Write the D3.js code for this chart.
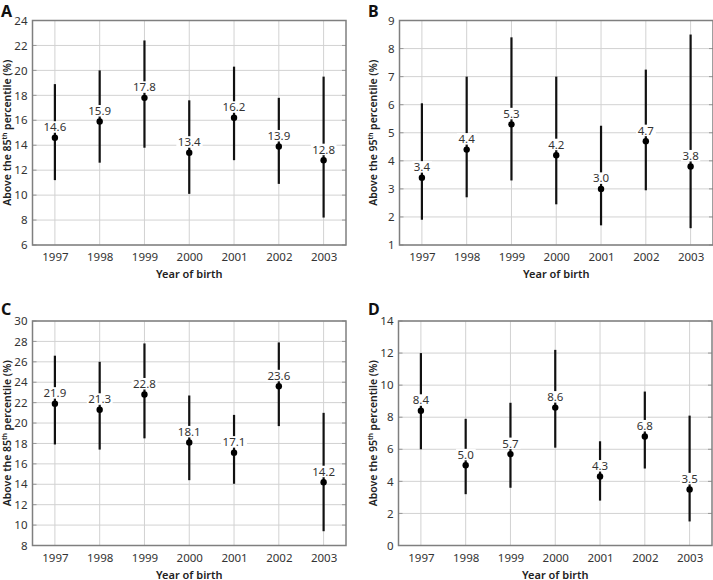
<!DOCTYPE html>
<html>
<head>
<meta charset="utf-8">
<script src="https://cdn.jsdelivr.net/npm/d3@7"></script>
<style>
  html, body { margin: 0; padding: 0; background: #fff; }
  svg { display: block; font-family: "Noto Sans", "Open Sans", sans-serif; }
</style>
</head>
<body>
<svg id="chart" width="713" height="580"></svg>
<script>
const years = ["1997", "1998", "1999", "2000", "2001", "2002", "2003"];

const meanA = [14.6, 15.9, 17.8, 13.4, 16.2, 13.9, 12.8];
const lowA  = [11.2, 12.6, 13.8, 10.1, 12.8, 10.9, 8.2];
const highA = [18.9, 20.0, 22.4, 17.6, 20.3, 17.8, 19.5];

const meanB = [3.4, 4.4, 5.3, 4.2, 3.0, 4.7, 3.8];
const lowB  = [1.9, 2.7, 3.3, 2.45, 1.7, 2.95, 1.6];
const highB = [6.05, 7.0, 8.4, 7.0, 5.25, 7.25, 8.5];

const meanC = [21.9, 21.3, 22.8, 18.1, 17.1, 23.6, 14.2];
const lowC  = [17.9, 17.4, 18.5, 14.4, 14.05, 19.7, 9.4];
const highC = [26.6, 26.0, 27.8, 22.7, 20.8, 27.9, 21.0];

const meanD = [8.4, 5.0, 5.7, 8.6, 4.3, 6.8, 3.5];
const lowD  = [6.0, 3.2, 3.6, 6.1, 2.8, 4.8, 1.5];
const highD = [12.0, 7.9, 8.9, 12.2, 6.5, 9.6, 8.1];

const ticksA = [6, 8, 10, 12, 14, 16, 18, 20, 22, 24];
const ticksB = [1, 2, 3, 4, 5, 6, 7, 8, 9];
const ticksC = [8, 10, 12, 14, 16, 18, 20, 22, 24, 26, 28, 30];
const ticksD = [0, 2, 4, 6, 8, 10, 12, 14];

const xTitle = "Year of birth";

const panels = [
  { letter: "A", pct: "85", mean: meanA, low: lowA, high: highA, ticks: ticksA, left: 32.5, top: 20.5, letterX: 1, letterY: 17, titleX: 11 },
  { letter: "B", pct: "95", mean: meanB, low: lowB, high: highB, ticks: ticksB, left: 399.5, top: 20.5, letterX: 368, letterY: 17, titleX: 376.5 },
  { letter: "C", pct: "85", mean: meanC, low: lowC, high: highC, ticks: ticksC, left: 32.5, top: 321, letterX: 1, letterY: 315, titleX: 11 },
  { letter: "D", pct: "95", mean: meanD, low: lowD, high: highD, ticks: ticksD, left: 398.5, top: 321, letterX: 368, letterY: 315, titleX: 376.5 }
];

const W = 313.5, H = 224.5;
const svg = d3.select("#chart");

panels.forEach(p => {
  const x = d3.scalePoint().domain(years).range([p.left, p.left + W]).padding(0.5);
  const y = d3.scaleLinear().domain([p.ticks[0], p.ticks[p.ticks.length - 1]]).range([p.top + H, p.top]);
  const g = svg.append("g");

  // grid
  g.selectAll(".hg").data(p.ticks).join("line")
    .attr("x1", p.left).attr("x2", p.left + W)
    .attr("y1", d => y(d)).attr("y2", d => y(d))
    .attr("stroke", "#d2d2d2").attr("stroke-width", 1);
  g.selectAll(".vg").data(years).join("line")
    .attr("x1", d => x(d)).attr("x2", d => x(d))
    .attr("y1", p.top).attr("y2", p.top + H)
    .attr("stroke", "#d2d2d2").attr("stroke-width", 1);

  // inside ticks on left and right
  g.selectAll(".lt").data(p.ticks).join("line")
    .attr("x1", p.left).attr("x2", p.left + 4)
    .attr("y1", d => y(d)).attr("y2", d => y(d))
    .attr("stroke", "#999").attr("stroke-width", 1);
  g.selectAll(".rt").data(p.ticks).join("line")
    .attr("x1", p.left + W - 4).attr("x2", p.left + W)
    .attr("y1", d => y(d)).attr("y2", d => y(d))
    .attr("stroke", "#999").attr("stroke-width", 1);

  // frame
  g.append("rect")
    .attr("x", p.left).attr("y", p.top).attr("width", W).attr("height", H)
    .attr("fill", "none").attr("stroke", "#7f7f7f").attr("stroke-width", 1.5);

  // axes (labels only)
  const yAxis = d3.axisLeft(y).tickValues(p.ticks).tickSize(0).tickPadding(5).tickFormat(d3.format("d"));
  const ya = g.append("g").attr("transform", `translate(${p.left},0)`).call(yAxis);
  ya.select(".domain").remove();
  ya.selectAll("text").attr("font-size", 11.5).attr("fill", "#333").attr("font-family", "Noto Sans");

  const xAxis = d3.axisBottom(x).tickSize(0).tickPadding(8);
  const xa = g.append("g").attr("transform", `translate(0,${p.top + H})`).call(xAxis);
  xa.select(".domain").remove();
  xa.selectAll("text").attr("font-size", 11.5).attr("fill", "#333").attr("font-family", "Noto Sans");

  // error bars
  const data = years.map((yr, i) => ({ yr, m: p.mean[i], lo: p.low[i], hi: p.high[i] }));
  g.selectAll(".eb").data(data).join("line")
    .attr("x1", d => x(d.yr)).attr("x2", d => x(d.yr))
    .attr("y1", d => y(d.lo)).attr("y2", d => y(d.hi))
    .attr("stroke", "#111").attr("stroke-width", 2.2);

  // labels with white background
  const lab = g.selectAll(".lab").data(data).join("g");
  const txt = lab.append("text")
    .attr("x", d => x(d.yr)).attr("y", d => y(d.m) - 6.5)
    .attr("text-anchor", "middle").attr("font-size", 11.5).attr("fill", "#333")
    .text(d => d.m.toFixed(1));
  txt.each(function () {
    const b = this.getBBox();
    d3.select(this.parentNode).insert("rect", "text")
      .attr("x", b.x - 1.5).attr("y", b.y + 2).attr("width", b.width + 3).attr("height", b.height - 3.5)
      .attr("fill", "#fff");
  });

  // points
  g.selectAll(".pt").data(data).join("circle")
    .attr("cx", d => x(d.yr)).attr("cy", d => y(d.m)).attr("r", 3.2)
    .attr("fill", "#000");

  // panel letter
  svg.append("text").attr("x", p.letterX).attr("y", p.letterY)
    .attr("font-size", 16).attr("font-weight", 700).attr("fill", "#111").text(p.letter);

  // y title
  const yt = svg.append("text")
    .attr("transform", `translate(${p.titleX},${p.top + H / 2}) rotate(-90)`)
    .attr("text-anchor", "middle").attr("font-size", 10.5).attr("font-weight", 600).attr("fill", "#222");
  yt.append("tspan").text(`Above the ${p.pct}`);
  yt.append("tspan").attr("font-size", 6.5).attr("dy", -4).text("th");
  yt.append("tspan").attr("dy", 4).text(" percentile (%)");

  // x title
  svg.append("text").attr("x", p.left + W / 2).attr("y", p.top + H + 33)
    .attr("text-anchor", "middle").attr("font-size", 11).attr("font-weight", 600).attr("fill", "#222")
    .text(xTitle);
});
</script>
</body>
</html>
